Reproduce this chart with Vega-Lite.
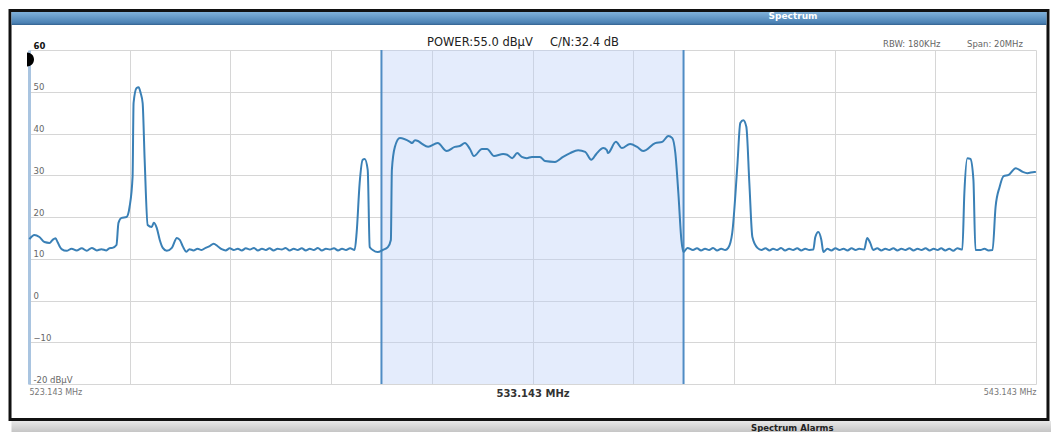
{
  "$schema": "https://vega.github.io/schema/vega-lite/v6.json",
  "width": 1007,
  "height": 334,
  "autosize": {"type": "none"},
  "padding": {"left": 29, "top": 50, "right": 15, "bottom": 48},
  "background": "white",
  "config": {"view": {"stroke": null}, "font": "DejaVu Sans"},
  "data": {"values": [
    {"f": 523.15, "dB": 14.7}, {"f": 523.25, "dB": 15.7}, {"f": 523.35, "dB": 15.2}, {"f": 523.45, "dB": 14.0},
    {"f": 523.55, "dB": 13.8}, {"f": 523.61, "dB": 14.5}, {"f": 523.67, "dB": 14.9}, {"f": 523.71, "dB": 14.0},
    {"f": 523.79, "dB": 12.3}, {"f": 523.89, "dB": 11.9}, {"f": 523.99, "dB": 12.4}, {"f": 524.09, "dB": 12.0},
    {"f": 524.19, "dB": 12.5}, {"f": 524.29, "dB": 11.9}, {"f": 524.39, "dB": 12.6}, {"f": 524.49, "dB": 12.0},
    {"f": 524.58, "dB": 12.3}, {"f": 524.68, "dB": 12.0}, {"f": 524.74, "dB": 12.5}, {"f": 524.80, "dB": 12.6},
    {"f": 524.88, "dB": 13.3}, {"f": 524.92, "dB": 18.6}, {"f": 524.98, "dB": 19.8}, {"f": 525.08, "dB": 20.0},
    {"f": 525.14, "dB": 22.4}, {"f": 525.20, "dB": 29.6}, {"f": 525.22, "dB": 47.3}, {"f": 525.28, "dB": 50.9},
    {"f": 525.32, "dB": 51.1}, {"f": 525.36, "dB": 49.7}, {"f": 525.40, "dB": 47.3}, {"f": 525.44, "dB": 33.7},
    {"f": 525.50, "dB": 18.1}, {"f": 525.58, "dB": 17.6}, {"f": 525.62, "dB": 18.6}, {"f": 525.68, "dB": 17.4},
    {"f": 525.74, "dB": 14.5}, {"f": 525.80, "dB": 12.6}, {"f": 525.88, "dB": 11.9}, {"f": 525.98, "dB": 12.6},
    {"f": 526.08, "dB": 15.0}, {"f": 526.14, "dB": 14.5}, {"f": 526.20, "dB": 12.9}, {"f": 526.27, "dB": 11.7},
    {"f": 526.33, "dB": 12.3}, {"f": 526.41, "dB": 12.0}, {"f": 526.49, "dB": 12.4}, {"f": 526.57, "dB": 12.1},
    {"f": 526.65, "dB": 12.6}, {"f": 526.73, "dB": 13.0}, {"f": 526.81, "dB": 13.6}, {"f": 526.89, "dB": 13.0},
    {"f": 526.97, "dB": 12.3}, {"f": 527.05, "dB": 12.0}, {"f": 527.13, "dB": 12.5}, {"f": 527.21, "dB": 12.1},
    {"f": 527.29, "dB": 12.4}, {"f": 527.37, "dB": 12.0}, {"f": 527.45, "dB": 12.5}, {"f": 527.53, "dB": 12.2},
    {"f": 527.61, "dB": 12.6}, {"f": 527.69, "dB": 12.0}, {"f": 527.77, "dB": 12.4}, {"f": 527.85, "dB": 12.1},
    {"f": 527.92, "dB": 12.5}, {"f": 528.00, "dB": 12.0}, {"f": 528.08, "dB": 12.4}, {"f": 528.16, "dB": 12.2},
    {"f": 528.24, "dB": 12.6}, {"f": 528.32, "dB": 12.0}, {"f": 528.40, "dB": 12.4}, {"f": 528.48, "dB": 12.1},
    {"f": 528.56, "dB": 12.5}, {"f": 528.64, "dB": 12.0}, {"f": 528.72, "dB": 12.4}, {"f": 528.80, "dB": 12.1},
    {"f": 528.88, "dB": 12.6}, {"f": 528.96, "dB": 12.0}, {"f": 529.04, "dB": 12.4}, {"f": 529.12, "dB": 12.2},
    {"f": 529.20, "dB": 12.5}, {"f": 529.28, "dB": 12.0}, {"f": 529.36, "dB": 12.4}, {"f": 529.44, "dB": 12.1},
    {"f": 529.52, "dB": 12.5}, {"f": 529.61, "dB": 12.1}, {"f": 529.65, "dB": 16.2}, {"f": 529.71, "dB": 28.1},
    {"f": 529.77, "dB": 33.7}, {"f": 529.81, "dB": 33.9}, {"f": 529.87, "dB": 31.3}, {"f": 529.91, "dB": 12.8},
    {"f": 529.97, "dB": 12.1}, {"f": 530.07, "dB": 11.6}, {"f": 530.17, "dB": 12.1}, {"f": 530.27, "dB": 12.8},
    {"f": 530.33, "dB": 14.5}, {"f": 530.35, "dB": 31.3}, {"f": 530.41, "dB": 36.8}, {"f": 530.51, "dB": 38.9},
    {"f": 530.71, "dB": 38.0}, {"f": 530.75, "dB": 37.7}, {"f": 530.81, "dB": 38.4}, {"f": 530.87, "dB": 38.2},
    {"f": 530.95, "dB": 37.5}, {"f": 531.07, "dB": 36.8}, {"f": 531.26, "dB": 37.7}, {"f": 531.44, "dB": 35.8},
    {"f": 531.60, "dB": 36.8}, {"f": 531.70, "dB": 37.0}, {"f": 531.80, "dB": 37.7}, {"f": 531.90, "dB": 36.3},
    {"f": 531.98, "dB": 34.6}, {"f": 532.14, "dB": 36.3}, {"f": 532.24, "dB": 36.3}, {"f": 532.38, "dB": 34.6},
    {"f": 532.56, "dB": 35.1}, {"f": 532.64, "dB": 34.9}, {"f": 532.74, "dB": 34.1}, {"f": 532.84, "dB": 35.3},
    {"f": 532.93, "dB": 34.4}, {"f": 533.03, "dB": 34.1}, {"f": 533.13, "dB": 34.4}, {"f": 533.29, "dB": 34.4},
    {"f": 533.39, "dB": 33.4}, {"f": 533.59, "dB": 33.2}, {"f": 533.75, "dB": 34.4}, {"f": 533.89, "dB": 35.3},
    {"f": 534.05, "dB": 36.0}, {"f": 534.19, "dB": 35.6}, {"f": 534.31, "dB": 33.7}, {"f": 534.41, "dB": 35.1},
    {"f": 534.55, "dB": 36.5}, {"f": 534.62, "dB": 36.0}, {"f": 534.64, "dB": 35.3}, {"f": 534.80, "dB": 38.0},
    {"f": 534.92, "dB": 36.5}, {"f": 535.08, "dB": 37.5}, {"f": 535.22, "dB": 36.8}, {"f": 535.34, "dB": 35.8},
    {"f": 535.58, "dB": 37.7}, {"f": 535.72, "dB": 38.0}, {"f": 535.84, "dB": 39.4}, {"f": 535.92, "dB": 38.9},
    {"f": 535.98, "dB": 35.3}, {"f": 536.04, "dB": 25.7}, {"f": 536.10, "dB": 14.5}, {"f": 536.14, "dB": 11.6},
    {"f": 536.22, "dB": 12.6}, {"f": 536.33, "dB": 12.1}, {"f": 536.41, "dB": 12.5}, {"f": 536.49, "dB": 12.0},
    {"f": 536.57, "dB": 12.4}, {"f": 536.65, "dB": 12.1}, {"f": 536.73, "dB": 12.6}, {"f": 536.81, "dB": 12.0},
    {"f": 536.89, "dB": 12.4}, {"f": 536.97, "dB": 12.1}, {"f": 537.03, "dB": 12.6}, {"f": 537.11, "dB": 16.2},
    {"f": 537.21, "dB": 32.0}, {"f": 537.27, "dB": 42.5}, {"f": 537.33, "dB": 43.2}, {"f": 537.39, "dB": 41.6},
    {"f": 537.45, "dB": 28.1}, {"f": 537.51, "dB": 15.2}, {"f": 537.61, "dB": 12.6}, {"f": 537.69, "dB": 12.1},
    {"f": 537.77, "dB": 12.5}, {"f": 537.85, "dB": 12.0}, {"f": 537.92, "dB": 12.4}, {"f": 538.00, "dB": 12.1},
    {"f": 538.08, "dB": 12.6}, {"f": 538.16, "dB": 12.0}, {"f": 538.24, "dB": 12.4}, {"f": 538.32, "dB": 12.1},
    {"f": 538.40, "dB": 12.5}, {"f": 538.48, "dB": 12.0}, {"f": 538.56, "dB": 12.4}, {"f": 538.64, "dB": 12.1},
    {"f": 538.72, "dB": 12.2}, {"f": 538.76, "dB": 15.2}, {"f": 538.82, "dB": 16.4}, {"f": 538.88, "dB": 14.5},
    {"f": 538.92, "dB": 11.6}, {"f": 539.00, "dB": 12.4}, {"f": 539.08, "dB": 12.0}, {"f": 539.16, "dB": 12.5},
    {"f": 539.24, "dB": 12.1}, {"f": 539.32, "dB": 12.4}, {"f": 539.40, "dB": 12.0}, {"f": 539.48, "dB": 12.5},
    {"f": 539.56, "dB": 12.1}, {"f": 539.63, "dB": 12.4}, {"f": 539.73, "dB": 12.2}, {"f": 539.79, "dB": 15.0},
    {"f": 539.85, "dB": 13.8}, {"f": 539.91, "dB": 12.1}, {"f": 539.99, "dB": 12.5}, {"f": 540.07, "dB": 12.0},
    {"f": 540.15, "dB": 12.4}, {"f": 540.23, "dB": 12.1}, {"f": 540.31, "dB": 12.5}, {"f": 540.39, "dB": 12.0},
    {"f": 540.47, "dB": 12.4}, {"f": 540.55, "dB": 12.1}, {"f": 540.63, "dB": 12.5}, {"f": 540.71, "dB": 12.0},
    {"f": 540.79, "dB": 12.4}, {"f": 540.87, "dB": 12.1}, {"f": 540.95, "dB": 12.5}, {"f": 541.03, "dB": 12.0},
    {"f": 541.11, "dB": 12.4}, {"f": 541.19, "dB": 12.1}, {"f": 541.26, "dB": 12.5}, {"f": 541.34, "dB": 12.0},
    {"f": 541.42, "dB": 12.4}, {"f": 541.50, "dB": 11.9}, {"f": 541.58, "dB": 12.5}, {"f": 541.68, "dB": 12.2},
    {"f": 541.72, "dB": 25.7}, {"f": 541.78, "dB": 34.1}, {"f": 541.84, "dB": 33.9}, {"f": 541.90, "dB": 28.9},
    {"f": 541.94, "dB": 12.1}, {"f": 542.04, "dB": 12.1}, {"f": 542.12, "dB": 12.4}, {"f": 542.20, "dB": 12.0},
    {"f": 542.28, "dB": 12.1}, {"f": 542.34, "dB": 22.4}, {"f": 542.42, "dB": 27.2}, {"f": 542.50, "dB": 29.8},
    {"f": 542.60, "dB": 30.1}, {"f": 542.74, "dB": 31.7}, {"f": 542.88, "dB": 30.8}, {"f": 542.97, "dB": 30.5},
    {"f": 543.11, "dB": 30.8}, {"f": 543.14, "dB": 30.8}
  ]},
  "layer": [
    {
      "data": {"values": [{}]},
      "mark": {"type": "rect", "color": "#bccff8", "opacity": 0.4},
      "encoding": {
        "x": {"datum": 530.143, "type": "quantitative", "scale": {"domain": [523.143, 543.143], "nice": false, "zero": false},
          "axis": {"values": [523.143, 525.143, 527.143, 529.143, 531.143, 533.143, 535.143, 537.143, 539.143, 541.143, 543.143],
            "title": null, "grid": true, "gridColor": "#d6d6d6", "gridWidth": 1, "ticks": false, "tickSize": 0, "domain": false,
            "format": ".3f", "labelFlush": true, "labelOverlap": false, "labelPadding": 4, "labelBaseline": "top",
            "labelExpr": "(datum.value == 523.143 || datum.value == 533.143 || datum.value == 543.143) ? datum.label + ' MHz' : ''",
            "labelFont": "DejaVu Sans",
            "labelFontSize": {"condition": {"test": "datum.value == 533.143", "value": 10}, "value": 8},
            "labelFontWeight": {"condition": {"test": "datum.value == 533.143", "value": "bold"}, "value": "normal"},
            "labelColor": {"condition": {"test": "datum.value == 533.143", "value": "#333333"}, "value": "#777777"}}},
        "x2": {"datum": 536.143},
        "y": {"datum": -20, "type": "quantitative", "scale": {"domain": [-20, 60], "nice": false, "zero": false},
          "axis": {"values": [-20, -10, 0, 10, 20, 30, 40, 50, 60], "title": null, "grid": true, "gridColor": "#d6d6d6",
            "ticks": false, "tickSize": 0, "domain": true, "domainColor": "#a9c4e0", "domainWidth": 3,
            "labelAlign": "left", "labelBaseline": "alphabetic", "labelPadding": -4, "labelOffset": -2,
            "labelFont": "DejaVu Sans", "labelFontSize": 8.5,
            "labelExpr": "datum.value == -20 ? '-20 dBµV' : datum.label",
            "labelFontWeight": {"condition": {"test": "datum.value == 60", "value": "bold"}, "value": "normal"},
            "labelColor": {"condition": {"test": "datum.value == 60", "value": "#111111"}, "value": "#666666"}}},
        "y2": {"datum": 60}
      }
    },
    {
      "data": {"values": [{}]},
      "mark": {"type": "rule", "color": "#4f8cc4", "strokeWidth": 2},
      "encoding": {"x": {"datum": 530.143, "type": "quantitative"}, "y": {"datum": -20, "type": "quantitative"}, "y2": {"datum": 60}}
    },
    {
      "data": {"values": [{}]},
      "mark": {"type": "rule", "color": "#4f8cc4", "strokeWidth": 2},
      "encoding": {"x": {"datum": 536.143, "type": "quantitative"}, "y": {"datum": -20, "type": "quantitative"}, "y2": {"datum": 60}}
    },
    {
      "mark": {"type": "line", "color": "#3a80b6", "strokeWidth": 2, "interpolate": "monotone"},
      "encoding": {"x": {"field": "f", "type": "quantitative"}, "y": {"field": "dB", "type": "quantitative"}}
    },
    {
      "data": {"values": [{}]},
      "mark": {"type": "point", "shape": "M0,-1A1,1 0 0 1 0,1Z", "filled": true, "color": "#000000", "opacity": 1, "size": 196},
      "encoding": {"x": {"datum": 523.103, "type": "quantitative"}, "y": {"datum": 57.7, "type": "quantitative"}}
    },
    {
      "data": {"values": [{}]},
      "mark": {"type": "rect", "fill": null, "filled": false, "stroke": "#111111", "strokeWidth": 3},
      "encoding": {"x": {"datum": 522.766, "type": "quantitative"}, "x2": {"datum": 543.381},
        "y": {"datum": 69.46, "type": "quantitative"}, "y2": {"datum": -28.5}}
    },
    {
      "data": {"values": [{}]},
      "mark": {"type": "rect", "color": {"gradient": "linear", "x1": 0, "y1": 0, "x2": 0, "y2": 1,
        "stops": [{"offset": 0, "color": "#7fb1da"}, {"offset": 0.85, "color": "#4a80b3"}, {"offset": 1, "color": "#33628f"}]}},
      "encoding": {"x": {"datum": 522.795, "type": "quantitative"}, "x2": {"datum": 543.352},
        "y": {"datum": 69.1, "type": "quantitative"}, "y2": {"datum": 65.99}}
    },
    {
      "data": {"values": [{}]},
      "mark": {"type": "rect", "color": {"gradient": "linear", "x1": 0, "y1": 0, "x2": 0, "y2": 1,
        "stops": [{"offset": 0, "color": "#e8e8e8"}, {"offset": 1, "color": "#c4c4c4"}]}},
      "encoding": {"x": {"datum": 522.795, "type": "quantitative"}, "x2": {"datum": 543.441},
        "y": {"datum": -28.86, "type": "quantitative"}, "y2": {"datum": -31.6}}
    },
    {
      "data": {"values": [{}]},
      "mark": {"type": "text", "text": "Spectrum", "font": "DejaVu Sans", "fontWeight": "bold", "fontSize": 9, "color": "#ffffff", "align": "center", "baseline": "middle"},
      "encoding": {"x": {"datum": 538.317, "type": "quantitative"}, "y": {"datum": 68.2, "type": "quantitative"}}
    },
    {
      "data": {"values": [{}]},
      "mark": {"type": "text", "text": "POWER:55.0 dBµV", "font": "DejaVu Sans", "fontSize": 11.5, "color": "#222222", "align": "left", "baseline": "middle"},
      "encoding": {"x": {"datum": 531.048, "type": "quantitative"}, "y": {"datum": 61.68, "type": "quantitative"}}
    },
    {
      "data": {"values": [{}]},
      "mark": {"type": "text", "text": "C/N:32.4 dB", "font": "DejaVu Sans", "fontSize": 11.5, "color": "#222222", "align": "left", "baseline": "middle"},
      "encoding": {"x": {"datum": 533.491, "type": "quantitative"}, "y": {"datum": 61.68, "type": "quantitative"}}
    },
    {
      "data": {"values": [{}]},
      "mark": {"type": "text", "text": "RBW: 180KHz", "font": "DejaVu Sans", "fontSize": 8.5, "color": "#666666", "align": "left", "baseline": "middle"},
      "encoding": {"x": {"datum": 540.104, "type": "quantitative"}, "y": {"datum": 61.44, "type": "quantitative"}}
    },
    {
      "data": {"values": [{}]},
      "mark": {"type": "text", "text": "Span: 20MHz", "font": "DejaVu Sans", "fontSize": 8.5, "color": "#666666", "align": "left", "baseline": "middle"},
      "encoding": {"x": {"datum": 541.773, "type": "quantitative"}, "y": {"datum": 61.44, "type": "quantitative"}}
    },
    {
      "data": {"values": [{}]},
      "mark": {"type": "text", "text": "Spectrum Alarms", "font": "DejaVu Sans", "fontWeight": "bold", "fontSize": 8.5, "color": "#222222", "align": "left", "baseline": "alphabetic"},
      "encoding": {"x": {"datum": 537.483, "type": "quantitative"}, "y": {"datum": -31.26, "type": "quantitative"}}
    }
  ]
}
